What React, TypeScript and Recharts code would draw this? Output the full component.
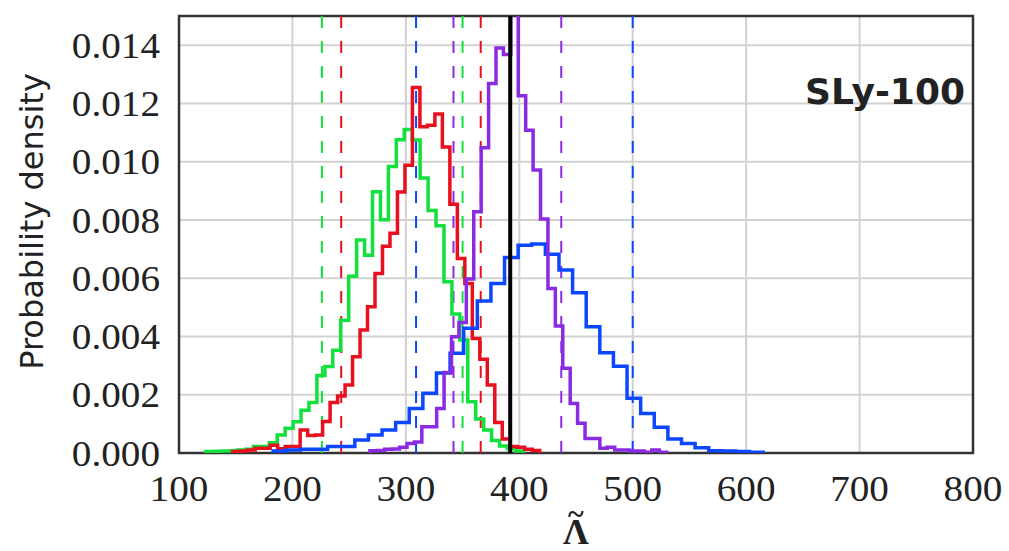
import { LineChart, Line, XAxis, YAxis, CartesianGrid, ReferenceLine, ReferenceArea } from 'recharts';

const xTicks = [100, 200, 300, 400, 500, 600, 700, 800];
const yTicks = [0, 0.002, 0.004, 0.006, 0.008, 0.01, 0.012, 0.014];

// histograms: left edge of first bin, bin width, density of each bin
const greenStart = 123.6;
const greenWidth = 7.0;
const greenDensity = [
    0.00005, 0.00006, 0.00007, 0.00008, 0.0001, 0.00013, 0.00022, 0.00022, 0.00035, 0.00062,
    0.00085, 0.00107, 0.00147, 0.00173, 0.00266, 0.00297, 0.00353, 0.00456, 0.00607, 0.00731,
    0.00679, 0.00897, 0.00801, 0.00983, 0.01075, 0.0111, 0.01074, 0.00944, 0.00832, 0.0078,
    0.00588, 0.00477, 0.00388, 0.00176, 0.00117, 0.00079, 0.00043, 0.00024, 0.00015, 0.00007,
];

const redStart = 147.4;
const redWidth = 6.6;
const redDensity = [
    0.00005, 0.00007, 0.0001, 0.00016, 0.00016, 0.00027, 0.00015, 0.00022, 0.00022, 0.00079,
    0.0006, 0.00062, 0.00108, 0.00173, 0.00196, 0.00233, 0.0033, 0.00422, 0.00502, 0.00616,
    0.0071, 0.00754, 0.00896, 0.00988, 0.01255, 0.0112, 0.01125, 0.01164, 0.0105, 0.00854,
    0.00668, 0.00582, 0.00393, 0.00322, 0.00233, 0.00105, 0.00048, 0.00022, 0.0002, 0.00013,
    0.00009,
];

const blueStart = 183;
const blueWidth = 12;
const blueDensity = [
    0.00007, 0.0001, 0.00013, 0.00013, 0.00022, 0.00022, 0.00045, 0.00062, 0.00079, 0.00105,
    0.00153, 0.00205, 0.00275, 0.00342, 0.00428, 0.00522, 0.00582, 0.00671, 0.00713, 0.00717,
    0.00682, 0.00628, 0.0055, 0.00433, 0.00344, 0.00298, 0.00188, 0.00136, 0.00088, 0.00048,
    0.00033, 0.00018, 0.00008, 0.00007, 0.00005, 0.00003,
];

const purpleStart = 268.3;
const purpleWidth = 6.54;
const purpleDensity = [
    0.00008, 0.00009, 0.00013, 0.00014, 0.0002, 0.00033, 0.00038, 0.0009, 0.0009, 0.00153,
    0.00276, 0.00399, 0.00448, 0.00597, 0.00828, 0.01048, 0.01268, 0.0139, 0.01368, 0.0158,
    0.01226, 0.01108, 0.00971, 0.00803, 0.00565, 0.00436, 0.00291, 0.0017, 0.00102, 0.0005,
    0.0005, 0.00016, 0.0002, 0.0001, 0.0001, 0.00007, 0.00007, 0.00003, 0.0001, 0.00003,
];

// 90% bounds (dashed) and injected value (solid black)
const greenBounds = [226, 350];
const redBounds = [243, 366];
const blueBounds = [309, 500];
const purpleBounds = [342, 437];
const injectedValue = 392;

const GREEN = '#12e03c';
const RED = '#e8101e';
const BLUE = '#0a47ff';
const PURPLE = '#8a2be2';

const toSteps = (start: number, width: number, density: number[]) => [
    { x: start, d: 0 },
    ...density.map((d, i) => ({ x: start + i * width, d })),
    { x: start + density.length * width, d: 0 },
];

const serif = '"Liberation Serif", "Times New Roman", serif';

function XTick({ x, y, payload }: any) {
    return (
        <text transform={`translate(${x},${y}) scale(1.12,1.05)`} textAnchor="middle" dy={23}
            fontFamily={serif} fontSize={35} fill="#222">
            {payload.value}
        </text>
    );
}

function YTick({ x, y, payload }: any) {
    return (
        <text transform={`translate(${x},${y}) scale(1.12,1.05)`} textAnchor="end" dy={12}
            fontFamily={serif} fontSize={35} fill="#222">
            {payload.value.toFixed(3)}
        </text>
    );
}

export default function App() {
    const bounds = [
        { v: greenBounds, c: GREEN },
        { v: redBounds, c: RED },
        { v: blueBounds, c: BLUE },
        { v: purpleBounds, c: PURPLE },
    ];
    return (
        <div style={{ position: 'absolute', left: 0, top: 0, background: '#fff' }}>
            <LineChart width={1009} height={551} margin={{ top: 16, right: 36, left: 0, bottom: 0 }}>
                <CartesianGrid stroke="#d2d2d2" strokeWidth={2} />
                <XAxis
                    type="number"
                    dataKey="x"
                    domain={[100, 800]}
                    ticks={xTicks}
                    allowDataOverflow
                    height={98}
                    axisLine={false}
                    tickLine={false}
                    tickMargin={18}
                    tick={<XTick />}
                    label={{
                        content: ({ viewBox }: any) => {
                            const cx = viewBox.x + viewBox.width / 2;
                            const base = viewBox.y + 91;
                            // tilde accent over a bold Lambda, kept in one text element
                            return (
                                <text y={base} fontFamily={serif} fontWeight="bold" fill="#222" fontSize={36}>
                                    <tspan x={cx - 13}>Λ</tspan>
                                    <tspan x={cx - 8} dy={-20} fontSize={30}>~</tspan>
                                </text>
                            );
                        },
                    }}
                />
                <YAxis
                    type="number"
                    domain={[0, 0.015]}
                    ticks={yTicks}
                    allowDataOverflow
                    width={179}
                    axisLine={false}
                    tickLine={false}
                    tickMargin={13}
                    tick={<YTick />}
                    label={{
                        content: ({ viewBox }: any) => {
                            const cx = viewBox.x + 32;
                            const cy = viewBox.y + viewBox.height / 2 - 13;
                            return (
                                <text x={cx} y={cy} transform={`rotate(-90, ${cx}, ${cy})`} textAnchor="middle"
                                    dominantBaseline="central" fontFamily='"DejaVu Sans", sans-serif' fontSize={32} fill="#222">
                                    Probability density
                                </text>
                            );
                        },
                    }}
                />

                {bounds.map((b) =>
                    b.v.map((v) => (
                        <ReferenceLine key={`${b.c}-${v}`} x={v} stroke={b.c} strokeWidth={2} strokeDasharray="12 13" />
                    ))
                )}

                <Line data={toSteps(greenStart, greenWidth, greenDensity)} dataKey="d" type="stepAfter"
                    stroke={GREEN} strokeWidth={3.5} dot={false} isAnimationActive={false} />
                <Line data={toSteps(redStart, redWidth, redDensity)} dataKey="d" type="stepAfter"
                    stroke={RED} strokeWidth={3.5} dot={false} isAnimationActive={false} />
                <Line data={toSteps(blueStart, blueWidth, blueDensity)} dataKey="d" type="stepAfter"
                    stroke={BLUE} strokeWidth={3.5} dot={false} isAnimationActive={false} />
                <Line data={toSteps(purpleStart, purpleWidth, purpleDensity)} dataKey="d" type="stepAfter"
                    stroke={PURPLE} strokeWidth={3.5} dot={false} isAnimationActive={false} />

                <ReferenceLine x={injectedValue} stroke="#000" strokeWidth={4} />

                <ReferenceArea
                    x1={100}
                    x2={800}
                    y1={0}
                    y2={0.015}
                    fill="none"
                    stroke="#333"
                    strokeWidth={2.5}
                    label={{
                        content: ({ viewBox }: any) => (
                            <text x={viewBox.x + viewBox.width - 8} y={viewBox.y + 88} textAnchor="end"
                                fontFamily='"DejaVu Sans", sans-serif' fontWeight="bold" fontSize={36} fill="#222">
                                SLy-100
                            </text>
                        ),
                    }}
                />
            </LineChart>
        </div>
    );
}
